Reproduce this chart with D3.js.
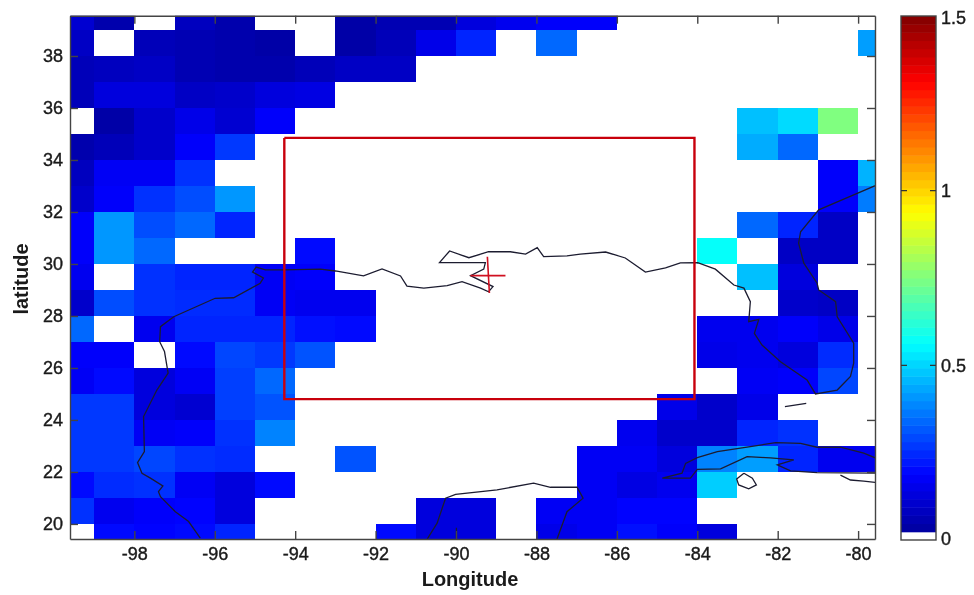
<!DOCTYPE html>
<html>
<head>
<meta charset="utf-8">
<style>
  html, body { margin: 0; padding: 0; background: #fff; }
  svg { display: block; filter: blur(0.3px); }
  text { font-family: "Liberation Sans", Arial, sans-serif; fill: #1a1a1a; }
  .tick-label text, .cb-label { font-size: 18px; stroke: #1a1a1a; stroke-width: .4px; }
  .axis-title { font-size: 20px; font-weight: bold; }
  .axis path, .axis line { stroke: #444; stroke-width: 1.4; }
</style>
<script src="https://cdn.jsdelivr.net/npm/d3@7"></script>
</head>
<body>
<svg id="chart" width="974" height="595"></svg>
<script>
/* ── Data ──────────────────────────────────────────────────────────────────── */
const _ = null;

// west edge of each column, south edge of each row
const lons = d3.range(-100, -79);
const lats = [39, 38, 37, 36, 35, 34, 33, 32, 31, 30, 29, 28, 27, 26, 25, 24, 23, 22, 21, 20, 19];

const lat39 = [.11,.05,_,.08,.05,_,_,.04,.06,.06,.13,.16,.18,.18,_,_,_,_,_,_,_];
const lat38 = [.09,_,.07,.06,.05,.04,_,.04,.07,.15,.24,_,.34,_,_,_,_,_,_,_,.42];
const lat37 = [.07,.08,.09,.06,.05,.05,.07,.09,.09,_,_,_,_,_,_,_,_,_,_,_,_];
const lat36 = [.07,.13,.13,.09,.1,.13,.14,_,_,_,_,_,_,_,_,_,_,_,_,_,_];
const lat35 = [_,.04,.1,.15,.11,.18,_,_,_,_,_,_,_,_,_,_,_,.47,.51,.75,_];
const lat34 = [.05,.07,.1,.18,.27,_,_,_,_,_,_,_,_,_,_,_,_,.44,.34,_,_];
const lat33 = [.08,.17,.17,.26,_,_,_,_,_,_,_,_,_,_,_,_,_,_,_,.18,.45];
const lat32 = [.1,.18,.26,.3,.41,_,_,_,_,_,_,_,_,_,_,_,_,_,_,.18,.37];
const lat31 = [.18,.41,.3,.34,.24,_,_,_,_,_,_,_,_,_,_,_,_,.34,.24,.09,_];
const lat30 = [.18,.41,.34,_,_,_,.2,_,_,_,_,_,_,_,_,_,.57,_,.09,.09,_];
const lat29 = [.16,_,.26,.24,.24,.17,.18,_,_,_,_,_,_,_,_,_,_,.47,.13,_,_];
const lat28 = [.1,.3,.26,.25,.25,.17,.16,.16,_,_,_,_,_,_,_,_,_,_,.1,.09,_];
const lat27 = [.34,_,.16,.24,.24,.24,.21,.2,_,_,_,_,_,_,_,_,.16,.16,.18,.15,_];
const lat26 = [.18,.18,_,.2,.29,.27,.31,_,_,_,_,_,_,_,_,_,.15,.16,.13,.25,_];
const lat25 = [.17,.2,.13,.17,.28,.34,_,_,_,_,_,_,_,_,_,_,_,.17,.18,.29,_];
const lat24 = [.27,.27,.13,.11,.28,.31,_,_,_,_,_,_,_,_,_,.15,.1,.15,_,_,_];
const lat23 = [.27,.27,.17,.18,.26,.38,_,_,_,_,_,_,_,_,.16,.1,.1,.24,.26,_,_];
const lat22 = [.27,.27,.29,.26,.25,_,_,.31,_,_,_,_,_,.17,.17,.13,.38,.42,.24,.16,.16];
const lat21 = [.2,.25,.26,.17,.13,.2,_,_,_,_,_,_,_,.17,.14,.16,.49,_,_,_,_];
const lat20 = [.26,.16,.18,.19,.13,_,_,_,_,.13,.13,_,.17,.17,.19,.19,_,_,_,_,_];
const lat19 = [_,.2,.19,.2,.24,_,_,_,.2,.13,.13,_,.15,.17,.21,.18,.13,_,_,_,_];
const grid = [lat39, lat38, lat37, lat36, lat35, lat34, lat33, lat32, lat31, lat30, lat29,
              lat28, lat27, lat26, lat25, lat24, lat23, lat22, lat21, lat20, lat19];

const xTicks = [-98, -96, -94, -92, -90, -88, -86, -84, -82, -80];
const yTicks = [20, 22, 24, 26, 28, 30, 32, 34, 36, 38];
const cbTicks = [0, 0.5, 1, 1.5];

// coast, [lon, lat]
const gulfCoast = [[-96.36,19.45],[-96.65,20.09],[-96.98,20.47],[-97.35,21.05],[-97.40,21.24],[-97.29,21.46],
  [-97.60,21.76],[-97.81,21.95],[-97.92,22.36],[-97.75,22.78],[-97.77,24.13],[-97.44,25.15],[-97.16,25.80],
  [-97.25,26.63],[-97.37,27.01],[-97.35,27.59],[-97.02,27.97],[-95.99,28.68],[-95.53,28.70],[-94.87,29.26],
  [-94.79,29.46],[-95.06,29.69],[-94.97,29.88],[-94.74,29.77],[-94.29,29.77],[-93.37,29.80],[-93.00,29.73],
  [-92.30,29.54],[-91.84,29.81],[-91.38,29.54],[-91.22,29.15],[-90.80,29.07],[-90.22,29.17],[-89.85,29.32],
  [-89.39,29.07],[-89.19,28.93],[-89.08,29.13],[-89.64,29.55],[-89.31,29.80],[-89.27,30.05],[-90.41,30.05],
  [-90.16,30.50],[-89.68,30.24],[-89.19,30.47],[-88.65,30.47],[-88.27,30.38],[-87.98,30.63],[-87.82,30.28],
  [-87.24,30.31],[-86.91,30.38],[-86.28,30.46],[-85.79,30.23],[-85.29,29.69],[-84.79,29.85],[-84.42,30.04],
  [-83.99,30.05],[-83.55,29.80],[-83.09,29.19],[-82.84,29.07],[-82.68,28.55],[-82.72,27.78],[-82.47,27.87],
  [-82.58,27.33],[-82.39,26.88],[-81.93,26.24],[-81.27,25.54],[-81.06,25.00],[-80.52,25.15],[-80.19,25.67],
  [-80.11,26.18],[-80.11,26.95],[-80.52,27.97],[-80.56,28.55],[-80.98,29.00],[-81.02,29.26],[-81.35,30.03],
  [-81.48,30.80],[-81.43,31.24],[-80.98,32.08],[-80.27,32.55],[-79.44,33.10]];
const yucatan = [[-90.72,19.41],[-90.47,20.03],[-90.26,20.99],[-90.01,21.14],[-88.98,21.31],[-88.07,21.57],
  [-87.65,21.41],[-86.99,21.41],[-86.84,20.99],[-87.24,20.47],[-87.49,19.41]];
const yucatanStub = [[-89.99,19.85],[-89.99,19.35]];
const cuba = [[-79.44,21.95],[-81.02,21.97],[-81.68,22.04],[-82.01,22.27],[-81.60,22.46],[-82.18,22.54],
  [-82.76,22.59],[-83.42,22.12],[-84.00,22.10],[-84.17,21.76],[-84.87,21.76],[-84.38,21.95],[-84.29,22.33],
  [-84.00,22.55],[-83.50,22.78],[-82.68,22.97],[-82.05,23.13],[-81.43,23.10],[-81.02,22.95],[-80.44,22.95],
  [-79.86,22.72],[-79.44,22.46]];
const cubaSouth = [[-80.44,21.88],[-80.19,21.69],[-79.86,21.65],[-79.44,21.57]];
const isleOfYouth = [[-82.84,21.95],[-83.02,21.73],[-82.97,21.50],[-82.72,21.35],[-82.53,21.50],[-82.63,21.76],[-82.84,21.95]];
const keys = [[-81.82,24.51],[-81.29,24.64]];
const coasts = [gulfCoast, yucatan, yucatanStub, cuba, cubaSouth, isleOfYouth, keys];

const studyBox = [[-94.27,34.85],[-84.07,34.85],[-84.07,24.80],[-94.27,24.80],[-94.27,34.85]];
const crossH = [[-89.64,29.55],[-88.77,29.55]];
const crossV = [[-89.22,30.28],[-89.17,28.88]];

/* ── Layout ────────────────────────────────────────────────────────────────── */
const P = { left: 70, right: 875, top: 15.7, bottom: 539 };
const CB = { left: 901, right: 936, top: 16, bottom: 540 };

const svg = d3.select('#chart');

const x = d3.scaleLinear().domain([-99.6, -79.58]).range([P.left, P.right]);
const y = d3.scaleLinear().domain([19.42, 39.55]).range([P.bottom, P.top]);

// jet, 0 to 1.5
const jet = d3.scaleLinear()
  .domain([0, .125, .375, .625, .875, 1].map(t => t * 1.5))
  .range(['#00008f', '#0000ff', '#00ffff', '#ffff00', '#ff0000', '#800000'])
  .clamp(true);

svg.append('clipPath').attr('id', 'plot-clip')
  .append('rect')
  .attr('x', P.left).attr('y', P.top)
  .attr('width', P.right - P.left).attr('height', P.bottom - P.top);

const plot = svg.append('g').attr('clip-path', 'url(#plot-clip)');

/* ── Cells ─────────────────────────────────────────────────────────────────── */
const cells = [];
grid.forEach((row, i) => row.forEach((v, j) => {
  if (v !== null) cells.push({ lon: lons[j], lat: lats[i], v });
}));

plot.append('g').selectAll('rect')
  .data(cells)
  .join('rect')
  .attr('x', d => x(d.lon))
  .attr('y', d => y(d.lat + 1))
  .attr('width', d => x(d.lon + 1) - x(d.lon))
  .attr('height', d => y(d.lat) - y(d.lat + 1))
  .attr('fill', d => jet(d.v))
  .attr('shape-rendering', 'crispEdges');

/* ── Coast and study area ──────────────────────────────────────────────────── */
const line = d3.line().x(d => x(d[0])).y(d => y(d[1]));

plot.append('g').selectAll('path')
  .data(coasts)
  .join('path')
  .attr('d', line)
  .attr('fill', 'none')
  .attr('stroke', '#1c1c30')
  .attr('stroke-width', 1.3);

plot.append('path').attr('d', line(studyBox))
  .attr('fill', 'none').attr('stroke', '#c8000c').attr('stroke-width', 2.4);

plot.selectAll('.cross')
  .data([crossH, crossV])
  .join('path')
  .attr('class', 'cross')
  .attr('d', line)
  .attr('fill', 'none')
  .attr('stroke', '#d01020')
  .attr('stroke-width', 1.6);

/* ── Axes ──────────────────────────────────────────────────────────────────── */
const fmt = d => String(d);

svg.append('g').attr('class', 'axis tick-label')
  .attr('transform', `translate(0,${P.bottom})`)
  .call(d3.axisBottom(x).tickValues(xTicks).tickFormat(fmt).tickSizeInner(-8).tickSizeOuter(0).tickPadding(8))
  .call(g => g.selectAll('text').attr('fill', '#1a1a1a'));

svg.append('g').attr('class', 'axis')
  .attr('transform', `translate(0,${P.top})`)
  .call(d3.axisTop(x).tickValues(xTicks).tickFormat('').tickSizeInner(-8).tickSizeOuter(0));

svg.append('g').attr('class', 'axis tick-label')
  .attr('transform', `translate(${P.left},0)`)
  .call(d3.axisLeft(y).tickValues(yTicks).tickFormat(fmt).tickSizeInner(-8).tickSizeOuter(0).tickPadding(7))
  .call(g => g.selectAll('text').attr('fill', '#1a1a1a'));

svg.append('g').attr('class', 'axis')
  .attr('transform', `translate(${P.right},0)`)
  .call(d3.axisRight(y).tickValues(yTicks).tickFormat('').tickSizeInner(-8).tickSizeOuter(0));

svg.append('text').attr('class', 'axis-title')
  .attr('x', 470).attr('y', 586).attr('text-anchor', 'middle')
  .text('Longitude');

svg.append('text').attr('class', 'axis-title')
  .attr('transform', 'translate(28,279) rotate(-90)').attr('text-anchor', 'middle')
  .text('latitude');

/* ── Colour bar ────────────────────────────────────────────────────────────── */
const cbScale = d3.scaleLinear().domain([0, 1.5]).range([CB.bottom, CB.top]);
const levels = d3.range(64).map(i => i * 1.5 / 64);

svg.append('g').selectAll('rect')
  .data(levels)
  .join('rect')
  .attr('x', CB.left)
  .attr('width', CB.right - CB.left)
  .attr('y', d => cbScale(d + 1.5 / 64))
  .attr('height', d => cbScale(d) - cbScale(d + 1.5 / 64) + .5)
  .attr('fill', (d, i) => i === 0 ? '#fff' : jet(d + .75 / 64));

svg.append('rect')
  .attr('x', CB.left).attr('y', CB.top)
  .attr('width', CB.right - CB.left).attr('height', CB.bottom - CB.top)
  .attr('fill', 'none').attr('stroke', '#444').attr('stroke-width', 1.4);

const cbTick = svg.append('g').selectAll('g')
  .data(cbTicks)
  .join('g')
  .attr('transform', d => `translate(0,${cbScale(d)})`);

cbTick.filter(d => d > 0 && d < 1.5).append('path')
  .attr('d', `M${CB.left},0h6M${CB.right - 6},0h6`)
  .attr('stroke', '#333').attr('stroke-width', 1.4);

cbTick.append('text').attr('class', 'cb-label')
  .attr('x', 941)
  .attr('y', d => d === 1.5 ? 1.5 : d === 0 ? -1 : 0)
  .attr('dy', '0.36em')
  .text(d => d);
</script>
</body>
</html>
